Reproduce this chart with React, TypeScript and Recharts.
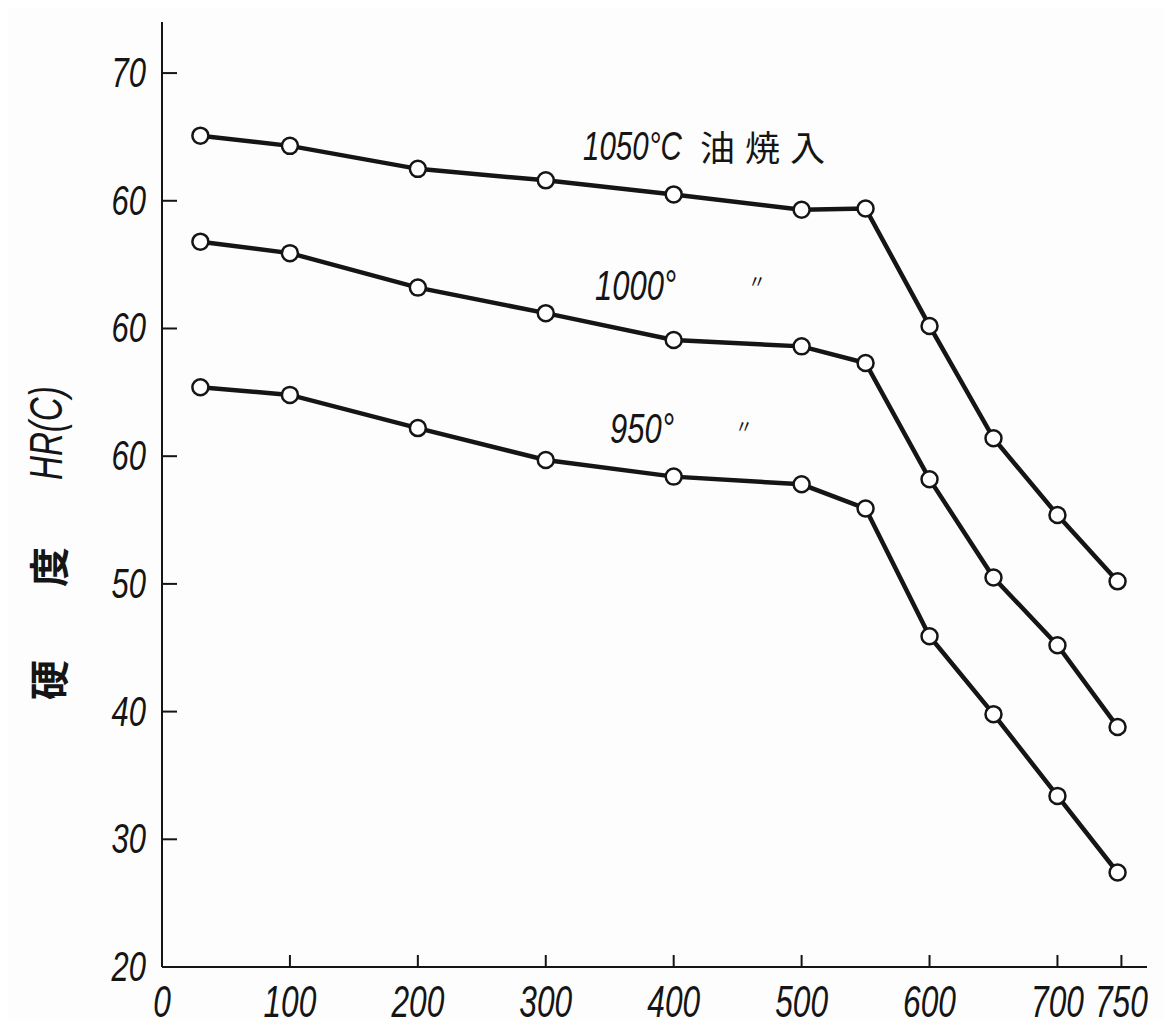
import { LineChart, Line, XAxis, YAxis } from "recharts";

// tempering temperature (°C)
const temps = [30, 100, 200, 300, 400, 500, 550, 600, 650, 700, 747];
// plotted positions on the stacked hardness scale
const hrc1050 = [85.1, 84.3, 82.5, 81.6, 80.5, 79.3, 79.4, 70.2, 61.4, 55.4, 50.2];
const hrc1000 = [76.8, 75.9, 73.2, 71.2, 69.1, 68.6, 67.3, 58.2, 50.5, 45.2, 38.8];
const hrc950 = [65.4, 64.8, 62.2, 59.7, 58.4, 57.8, 55.9, 45.9, 39.8, 33.4, 27.4];

const xTicks = [0, 100, 200, 300, 400, 500, 600, 700, 750];
const yTicks = [20, 30, 40, 50, 60, 70, 80, 90];
const yTickLabels = ["20", "30", "40", "50", "60", "60", "60", "70"];

const data = temps.map((t, i) => ({
  t,
  a: hrc1050[i],
  b: hrc1000[i],
  c: hrc950[i],
}));

const INK = "#151515";
const NUM_FONT = "'Liberation Sans', Arial, sans-serif";

function Num({ x, y, text, anchor, size }: any) {
  // condensed italic numerals, like the print
  return (
    <text
      transform={`translate(${x},${y}) scale(0.72,1)`}
      textAnchor={anchor}
      fontFamily={NUM_FONT}
      fontStyle="italic"
      fontSize={size}
      fill={INK}
    >
      {text}
    </text>
  );
}

function YTick(props: any) {
  const { x, y, payload } = props;
  const idx = yTicks.indexOf(payload.value);
  const label = yTickLabels[idx];
  return (
    <g>
      {payload.value !== 20 && (
        <line x1={x} y1={y} x2={x + 15} y2={y} stroke={INK} strokeWidth={2} />
      )}
      <Num x={x - 16} y={y + 14} text={label} anchor="end" size={43} />
    </g>
  );
}

function XTick(props: any) {
  const { x, y, payload } = props;
  return (
    <g>
      {payload.value !== 0 && (
        <line x1={x} y1={y} x2={x} y2={y - 12} stroke={INK} strokeWidth={2} />
      )}
      <Num x={x} y={y + 50} text={String(payload.value)} anchor="middle" size={44} />
    </g>
  );
}

const dot = { r: 8, fill: "#fff", stroke: INK, strokeWidth: 2.5 };

function Ann({ x, y, text, size, italic, spacing, scale, cjk }: any) {
  return (
    <text
      transform={`translate(${x},${y}) scale(${scale || 1},1)`}
      fontFamily={cjk ? "'Noto Sans CJK JP', sans-serif" : NUM_FONT}
      fontStyle={italic ? "italic" : "normal"}
      fontSize={size}
      letterSpacing={spacing || 0}
      fill={INK}
    >
      {text}
    </text>
  );
}

export default function App() {
  return (
    <div style={{ position: "relative", width: 1172, height: 1027, background: "#fdfdfd", margin: -8 }}>
      <LineChart
        width={1172}
        height={1027}
        data={data}
        margin={{ top: 22, right: 25, left: 0, bottom: 0 }}
      >
        <XAxis
          dataKey="t"
          type="number"
          domain={[0, 770]}
          ticks={xTicks}
          interval={0}
          height={60}
          tickSize={0}
          tickMargin={0}
          tickLine={false}
          axisLine={{ stroke: INK, strokeWidth: 2 }}
          tick={<XTick />}
        />
        <YAxis
          type="number"
          domain={[20, 94]}
          ticks={yTicks}
          interval={0}
          width={162}
          tickSize={0}
          tickMargin={0}
          tickLine={false}
          axisLine={{ stroke: INK, strokeWidth: 2 }}
          tick={<YTick />}
        />
        <Line dataKey="a" stroke={INK} strokeWidth={4.5} dot={dot} isAnimationActive={false} />
        <Line dataKey="b" stroke={INK} strokeWidth={4.5} dot={dot} isAnimationActive={false} />
        <Line dataKey="c" stroke={INK} strokeWidth={4.5} dot={dot} isAnimationActive={false} />
      </LineChart>
      <svg
        width={1172}
        height={1027}
        style={{ position: "absolute", left: 0, top: 0, pointerEvents: "none" }}
      >
        <Ann x={583} y={160} text="1050°C" size={41} italic scale={0.72} />
        <Ann x={700} y={161} text="油焼入" size={35} spacing={10} cjk />
        <Ann x={595} y={300} text="1000°" size={43} italic scale={0.72} />
        <Ann x={748} y={288} text="〃" size={18} cjk />
        <Ann x={610} y={443} text="950°" size={43} italic scale={0.72} />
        <Ann x={735} y={433} text="〃" size={18} cjk />
        <g transform="translate(64,700) rotate(-90)">
          <text
            fontFamily="'Noto Sans CJK JP', sans-serif"
            fontWeight={700}
            fontSize={40}
            fill={INK}
          >
            <tspan x={0}>硬</tspan>
            <tspan x={113}>度</tspan>
          </text>
          <text
            transform="translate(220,-2) scale(0.72,1)"
            fontFamily={NUM_FONT}
            fontStyle="italic"
            fontSize={46}
            fill={INK}
          >
            HR(C)
          </text>
        </g>
      </svg>
    </div>
  );
}
